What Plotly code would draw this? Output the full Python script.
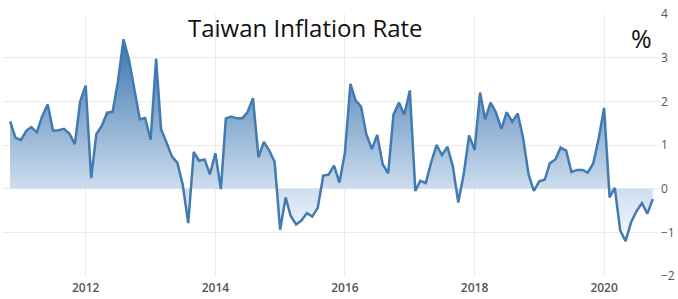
import plotly.graph_objects as go
import pandas as pd

start_month = "2010-11-01"
inflation = [
    1.54, 1.17,
    1.11, 1.33, 1.41, 1.29, 1.66, 1.93, 1.33, 1.34, 1.37, 1.26, 1.02, 2.00,
    2.36, 0.24, 1.25, 1.44, 1.74, 1.76, 2.46, 3.42, 2.96, 2.33, 1.59, 1.62,
    1.12, 2.98, 1.36, 1.05, 0.74, 0.59, 0.09, -0.79, 0.84, 0.64, 0.67, 0.33,
    0.81, -0.01, 1.61, 1.65, 1.61, 1.61, 1.75, 2.07, 0.72, 1.07, 0.87, 0.61,
    -0.94, -0.20, -0.62, -0.82, -0.73, -0.56, -0.64, -0.44, 0.30, 0.32, 0.53, 0.14,
    0.82, 2.40, 2.02, 1.88, 1.24, 0.91, 1.23, 0.56, 0.35, 1.70, 1.97, 1.70,
    2.25, -0.05, 0.18, 0.13, 0.60, 1.00, 0.77, 0.96, 0.50, -0.32, 0.34, 1.22,
    0.89, 2.20, 1.59, 1.97, 1.75, 1.37, 1.75, 1.53, 1.72, 1.17, 0.33, -0.05,
    0.17, 0.21, 0.58, 0.67, 0.94, 0.87, 0.38, 0.43, 0.43, 0.37, 0.58, 1.14,
    1.85, -0.20, 0.02, -0.96, -1.20, -0.77, -0.52, -0.33, -0.57, -0.24,
]
dates = pd.date_range(start_month, periods=len(inflation), freq="MS")

x_ticks = ["2012-01-01", "2014-01-01", "2016-01-01", "2018-01-01", "2020-01-01"]
x_tick_labels = ["2012", "2014", "2016", "2018", "2020"]
y_ticks = [-2, -1, 0, 1, 2, 3, 4]

ML, MR, MT, MB = 3, 16, 14, 22
W, H = 678, 299
pw = W - ML - MR
ph = H - MT - MB


def px_to_paper(px, py):
    return (px - ML) / pw, 1 - (py - MT) / ph


fig = go.Figure()
fig.add_trace(go.Scatter(
    x=dates, y=inflation, mode="lines",
    line=dict(color="rgb(66,122,178)", width=2.5),
    fill="tozeroy",
    fillgradient=dict(
        type="vertical", start=-1.35, stop=3.45,
        colorscale=[[0, "rgba(255,255,255,1)"], [0.28, "rgb(206,222,238)"], [1, "rgb(58,116,174)"]],
    ),
    hoverinfo="skip",
))

tx, ty = px_to_paper(306, 28)
px_, py_ = px_to_paper(643, 38)

fig.update_layout(
    width=W, height=H,
    margin=dict(l=ML, r=MR, t=MT, b=MB),
    paper_bgcolor="white", plot_bgcolor="white",
    showlegend=False,
    xaxis=dict(
        range=["2010-09-22", "2020-11-11"],
        tickvals=x_ticks, ticktext=x_tick_labels,
        showgrid=True, gridcolor="#ebebeb", gridwidth=1,
        zeroline=False, showline=False, ticks="",
        ticklabelstandoff=3,
        tickfont=dict(family="Open Sans", size=12, color="#555555", weight=600),
    ),
    yaxis=dict(
        range=[-2, 4], tickvals=y_ticks, side="right",
        showgrid=True, gridcolor="#ebebeb", gridwidth=1,
        zeroline=False, showline=False, ticks="",
        tickfont=dict(family="Open Sans", size=12, color="#555555"),
    ),
    annotations=[
        dict(text="Taiwan Inflation Rate", x=tx, y=ty, xref="paper", yref="paper",
             xanchor="center", yanchor="middle", showarrow=False,
             font=dict(family="Open Sans", size=24, color="#111111")),
        dict(text="%", x=px_, y=py_, xref="paper", yref="paper",
             xanchor="center", yanchor="middle", showarrow=False,
             font=dict(family="Open Sans", size=25, color="#111111")),
    ],
)

fig.write_html("out.html")
